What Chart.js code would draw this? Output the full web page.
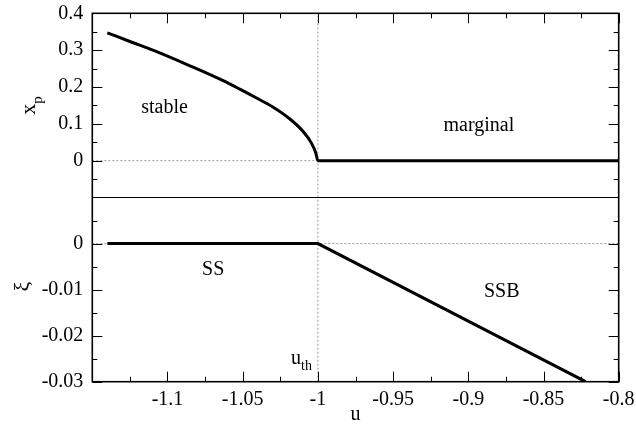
<!DOCTYPE html>
<html><head><meta charset="utf-8">
<script src="https://cdn.jsdelivr.net/npm/chart.js@4.4.1/dist/chart.umd.min.js"></script>
<style>html,body{margin:0;padding:0;background:#fff;overflow:hidden}#wrap{position:relative;width:636px;height:427px}</style>
</head><body><div id="wrap"><canvas id="c" width="636" height="427"></canvas></div>
<script>
// ---- data ----
const uStable  = [-1.14, -1.125, -1.1072, -1.0851, -1.063, -1.0519, -1.0408, -1.0297, -1.0186, -1.0098, -1.0042, -1.0014, -1.0, -0.8];
const xpStable = [0.347, 0.3235, 0.296, 0.2575, 0.217, 0.194, 0.170, 0.145, 0.113, 0.079, 0.047, 0.021, 0, 0];
const uXi  = [-1.14, -1.0, -0.822];
const xiVal = [0, 0, -0.03];
const uThreshold = -1;

const uRange  = [-1.15, -0.8];
const xpRange = [-0.1, 0.4];
const xiRange = [-0.03, 0.01];

const xMajorTicks = [-1.1, -1.05, -1, -0.95, -0.9, -0.85, -0.8];
const xTickLabels = ['-1.1', '-1.05', '-1', '-0.95', '-0.9', '-0.85', '-0.8'];
const xMinorTicks = [-1.125, -1.075, -1.025, -0.975, -0.925, -0.875, -0.825];
const xpMajorTicks = [0, 0.1, 0.2, 0.3, 0.4];
const xpTickLabels = ['0', '0.1', '0.2', '0.3', '0.4'];
const xpMinorTicks = [-0.05, 0.05, 0.15, 0.25, 0.35];
const xiMajorTicks = [-0.03, -0.02, -0.01, 0];
const xiTickLabels = ['-0.03', '-0.02', '-0.01', '0'];
const xiMinorTicks = [-0.025, -0.015, -0.005, 0.005];

const regionNames = ['stable', 'marginal', 'SS', 'SSB'];

// ---- presentation ----
const FONT = 'Liberation Serif, Times New Roman, serif';
const regionPlacement = [
  {axis: 'yTop', u: -1.102, v: 0.130},
  {axis: 'yTop', u: -0.893, v: 0.0806},
  {axis: 'yBot', u: -1.0696, v: -0.0069},
  {axis: 'yBot', u: -0.8778, v: -0.0116}
];

const pts = (xs, ys) => xs.map((x, i) => ({x: x, y: ys[i]}));
const dotted = {borderColor: '#9a9a9a', borderWidth: 1, borderDash: [2, 2], pointRadius: 0, tension: 0, fill: false};

const deco = {
  id: 'deco',
  afterDraw(chart) {
    const ctx = chart.ctx;
    const xs = chart.scales.x, yt = chart.scales.yTop, yb = chart.scales.yBot;
    const L = chart.chartArea.left, R = chart.chartArea.right;
    const T = chart.chartArea.top, B = chart.chartArea.bottom;
    const M = yt.getPixelForValue(xpRange[0]);
    ctx.save();
    ctx.strokeStyle = '#000';
    ctx.lineWidth = 1;
    const line = (x1, y1, x2, y2) => { ctx.beginPath(); ctx.moveTo(x1, y1); ctx.lineTo(x2, y2); ctx.stroke(); };
    const xt = (vals, len) => vals.forEach(v => { const p = Math.round(xs.getPixelForValue(v)) + 0.5; line(p, T, p, T + len); line(p, B, p, B - len); });
    const yTicks = (sc, vals, len) => vals.forEach(v => { const p = Math.round(sc.getPixelForValue(v)) + 0.5; line(L, p, L + len, p); line(R, p, R - len, p); });
    xt(xMajorTicks, 10); xt(xMinorTicks, 5);
    yTicks(yt, xpMajorTicks, 10); yTicks(yt, xpMinorTicks, 5);
    yTicks(yb, xiMajorTicks, 10); yTicks(yb, xiMinorTicks, 5);
    ctx.lineWidth = 1.2;
    line(L, M, R, M);
    ctx.lineWidth = 1.6;
    ctx.strokeRect(L, T, R - L, B - T);
    ctx.fillStyle = '#000';
    ctx.font = '20px ' + FONT;
    ctx.textAlign = 'center';
    ctx.textBaseline = 'alphabetic';
    regionNames.forEach((name, i) => {
      const pl = regionPlacement[i];
      ctx.fillText(name, xs.getPixelForValue(pl.u), chart.scales[pl.axis].getPixelForValue(pl.v));
    });
    {
      const xr = xs.getPixelForValue(uThreshold) - 6;
      const by = 363.5;
      ctx.textAlign = 'left';
      ctx.font = '14px ' + FONT; const wsub = ctx.measureText('th').width;
      ctx.font = '20px ' + FONT; const wu = ctx.measureText('u').width;
      ctx.fillText('u', xr - wsub - wu, by);
      ctx.font = '14px ' + FONT; ctx.fillText('th', xr - wsub, by + 6.5);
    }
    ctx.font = '20px ' + FONT; ctx.textAlign = 'center';
    ctx.fillText('u', (L + R) / 2, 420);
    {
      ctx.save();
      ctx.translate(35, (T + M) / 2);
      ctx.rotate(-Math.PI / 2);
      ctx.textAlign = 'left';
      ctx.font = '22px ' + FONT; const w1 = ctx.measureText('x').width;
      ctx.font = '15px ' + FONT; const w2 = ctx.measureText('p').width;
      const x0 = -(w1 + w2) / 2;
      ctx.font = '22px ' + FONT; ctx.fillText('x', x0, 0);
      ctx.font = '15px ' + FONT; ctx.fillText('p', x0 + w1, 7);
      ctx.restore();
    }
    {
      ctx.save();
      ctx.translate(28.5, (M + B) / 2 - 3);
      ctx.rotate(-Math.PI / 2);
      ctx.textAlign = 'center';
      ctx.font = '22px ' + FONT;
      ctx.fillText('ξ', 0, 0);
      ctx.restore();
    }
    ctx.restore();
  }
};

Chart.defaults.font.family = FONT;
Chart.defaults.font.size = 20;
Chart.defaults.color = '#000';

const setTicks = (vals) => (scale) => { scale.ticks = vals.map(v => ({value: v})); };
const labelsFrom = (vals, labels) => (value) => { const i = vals.findIndex(v => Math.abs(v - value) < 1e-9); return i >= 0 ? labels[i] : ''; };
const fixV = (s) => { s.width = 92.3; s.paddingTop = 0; s.paddingBottom = 0; };
const fixH = (s) => { s.height = 45.3; s.paddingLeft = 0; s.paddingRight = 0; };

new Chart(document.getElementById('c'), {
  type: 'line',
  data: {
    datasets: [
      {label: 'x_p', data: pts(uStable, xpStable), xAxisID: 'x', yAxisID: 'yTop', borderColor: '#000', borderWidth: 3, pointRadius: 0, fill: false, cubicInterpolationMode: 'monotone'},
      {label: 'xi', data: pts(uXi, xiVal), xAxisID: 'x', yAxisID: 'yBot', borderColor: '#000', borderWidth: 3, pointRadius: 0, fill: false, tension: 0},
      Object.assign({label: 'v1', data: pts([uThreshold, uThreshold], xpRange), xAxisID: 'x', yAxisID: 'yTop'}, dotted),
      Object.assign({label: 'v2', data: pts([uThreshold, uThreshold], xiRange), xAxisID: 'x', yAxisID: 'yBot'}, dotted),
      Object.assign({label: 'h1', data: pts(uRange, [0, 0]), xAxisID: 'x', yAxisID: 'yTop'}, dotted),
      Object.assign({label: 'h2', data: pts(uRange, [0, 0]), xAxisID: 'x', yAxisID: 'yBot'}, dotted)
    ]
  },
  options: {
    responsive: false,
    animation: false,
    devicePixelRatio: 1,
    layout: {padding: {top: 13.3, right: 17.3, left: 0, bottom: 0}},
    plugins: {legend: {display: false}, tooltip: {enabled: false}},
    scales: {
      x: {
        type: 'linear', position: 'bottom', min: uRange[0], max: uRange[1],
        grid: {display: false, drawTicks: false}, border: {display: false},
        afterBuildTicks: setTicks(xMajorTicks),
        afterFit: fixH,
        ticks: {padding: 6, maxRotation: 0, autoSkip: false, callback: labelsFrom(xMajorTicks, xTickLabels)}
      },
      yBot: {
        type: 'linear', position: 'left', stack: 'panels', stackWeight: 1, min: xiRange[0], max: xiRange[1],
        grid: {display: false, drawTicks: false}, border: {display: false},
        afterBuildTicks: setTicks(xiMajorTicks),
        afterFit: fixV,
        ticks: {padding: 9, autoSkip: false, callback: labelsFrom(xiMajorTicks, xiTickLabels)}
      },
      yTop: {
        type: 'linear', position: 'left', stack: 'panels', stackWeight: 1, min: xpRange[0], max: xpRange[1],
        grid: {display: false, drawTicks: false}, border: {display: false},
        afterBuildTicks: setTicks(xpMajorTicks),
        afterFit: fixV,
        ticks: {padding: 9, autoSkip: false, callback: labelsFrom(xpMajorTicks, xpTickLabels)}
      }
    }
  },
  plugins: [deco]
});
</script></body></html>
